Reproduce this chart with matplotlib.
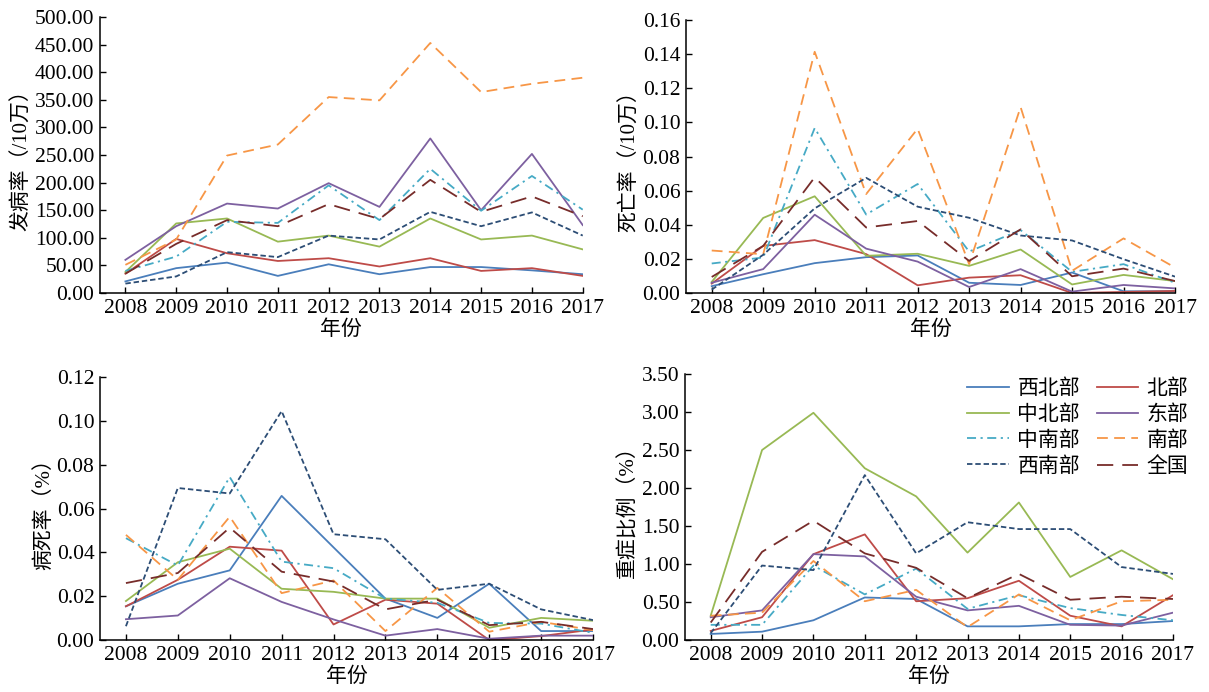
import numpy as np
from matplotlib import pyplot as plt

plt.rcParams['font.family'] = ['Liberation Serif', 'Noto Sans CJK SC']
plt.rcParams['axes.unicode_minus'] = False

years = list(range(2008, 2018))
regions = ['西北部', '北部', '中北部', '东部', '中南部', '南部', '西南部', '全国']

# 发病率 (/10万)
incidence = {
    '西北部': [21, 45, 55, 31, 52, 34, 47, 47, 41, 34],
    '北部': [35, 98, 72, 58, 63, 48, 63, 40, 45, 31],
    '中北部': [38, 126, 135, 93, 104, 84, 135, 97, 104, 79],
    '东部': [60, 121, 162, 153, 199, 156, 280, 150, 252, 123],
    '中南部': [40, 66, 129, 127, 195, 132, 225, 149, 212, 151],
    '南部': [51, 97, 249, 269, 355, 349, 453, 364, 379, 390],
    '西南部': [17, 30, 74, 65, 104, 97, 147, 121, 146, 104],
    '全国': [35, 89, 132, 121, 161, 134, 205, 147, 175, 139],
}

# 死亡率 (/10万)
mortality = {
    '西北部': [0.004, 0.011, 0.0175, 0.021, 0.022, 0.006, 0.0047, 0.012, 0.001, 0.001],
    '北部': [0.0055, 0.0276, 0.031, 0.0228, 0.0045, 0.009, 0.0104, 0.0, 0.0006, 0.0012],
    '中北部': [0.0065, 0.044, 0.0567, 0.0218, 0.023, 0.0159, 0.0255, 0.005, 0.0106, 0.007],
    '东部': [0.006, 0.014, 0.0459, 0.026, 0.0184, 0.0035, 0.014, 0.0008, 0.0047, 0.0027],
    '中南部': [0.0173, 0.0208, 0.0967, 0.046, 0.0639, 0.0243, 0.0369, 0.0124, 0.0169, 0.006],
    '南部': [0.0249, 0.0227, 0.1414, 0.058, 0.0963, 0.0169, 0.109, 0.013, 0.032, 0.0149],
    '西南部': [0.002, 0.0224, 0.0496, 0.0675, 0.0506, 0.0441, 0.0337, 0.0308, 0.0198, 0.0096],
    '全国': [0.0094, 0.0276, 0.0678, 0.0384, 0.0422, 0.0188, 0.0373, 0.0098, 0.0143, 0.007],
}

# 病死率 (%)
fatality = {
    '西北部': [0.0154, 0.0257, 0.0318, 0.0658, 0.0423, 0.0189, 0.0101, 0.0257, 0.0041, 0.0041],
    '北部': [0.0154, 0.0275, 0.0426, 0.0408, 0.0071, 0.0184, 0.0166, 0.0, 0.0018, 0.0048],
    '中北部': [0.0178, 0.0355, 0.0417, 0.0234, 0.022, 0.0189, 0.0189, 0.0056, 0.0101, 0.0088],
    '东部': [0.0095, 0.0112, 0.0282, 0.0174, 0.0094, 0.002, 0.005, 0.0006, 0.002, 0.002],
    '中南部': [0.0465, 0.034, 0.0744, 0.0358, 0.0328, 0.0189, 0.017, 0.0078, 0.0075, 0.0033],
    '南部': [0.048, 0.0275, 0.0563, 0.0214, 0.0272, 0.0041, 0.0238, 0.0038, 0.0083, 0.0045],
    '西南部': [0.0063, 0.0694, 0.0669, 0.1045, 0.0483, 0.046, 0.0229, 0.0257, 0.014, 0.0091],
    '全国': [0.026, 0.0306, 0.0513, 0.0312, 0.0267, 0.014, 0.0184, 0.0068, 0.0083, 0.005],
}

# 重症比例 (%)
severe = {
    '西北部': [0.08, 0.11, 0.26, 0.56, 0.54, 0.18, 0.18, 0.21, 0.21, 0.25],
    '北部': [0.12, 0.30, 1.13, 1.39, 0.51, 0.55, 0.78, 0.32, 0.18, 0.59],
    '中北部': [0.32, 2.50, 2.99, 2.26, 1.89, 1.15, 1.81, 0.83, 1.18, 0.80],
    '东部': [0.30, 0.39, 1.13, 1.10, 0.57, 0.39, 0.45, 0.20, 0.19, 0.36],
    '中南部': [0.20, 0.20, 0.98, 0.60, 0.94, 0.41, 0.59, 0.42, 0.33, 0.26],
    '南部': [0.32, 0.36, 1.04, 0.51, 0.66, 0.17, 0.60, 0.26, 0.51, 0.53],
    '西南部': [0.09, 0.98, 0.92, 2.17, 1.14, 1.55, 1.46, 1.46, 0.96, 0.87],
    '全国': [0.23, 1.16, 1.57, 1.14, 0.95, 0.55, 0.87, 0.53, 0.57, 0.54],
}

colors = {
    '西北部': '#4a7ebb', '北部': '#be4b48', '中北部': '#98b954', '东部': '#7d60a0',
    '中南部': '#46aac5', '南部': '#f79646', '西南部': '#2c4d75', '全国': '#772c2a',
}
dashes = {
    '西北部': None, '北部': None, '中北部': None, '东部': None,
    '中南部': (5, 2.5, 1.2, 2.5), '南部': (6, 3.5), '西南部': (3, 1.6), '全国': (9, 5),
}

fig = plt.figure(figsize=(12.09, 6.92), dpi=100)

panels = [
    ([0.0827, 0.5766, 0.3993, 0.3988], incidence, '发病率（/10万）', 500, 50),
    ([0.5674, 0.5766, 0.4045, 0.3944], mortality, '死亡率（/10万）', 0.16, 0.02),
    ([0.0827, 0.0751, 0.4078, 0.3799], fatality, '病死率（%）', 0.12, 0.02),
    ([0.5666, 0.0751, 0.4036, 0.3844], severe, '重症比例（%）', 3.5, 0.5),
]

for i, (rect, data, ylabel, ymax, step) in enumerate(panels):
    ax = fig.add_axes(rect)
    handles = {}
    for r in regions:
        line, = ax.plot(years, data[r], color=colors[r], lw=1.3, label=r)
        if dashes[r] is not None:
            line.set_dashes(dashes[r])
        handles[r] = line
    ax.set_xlim(2007.5, 2017)
    ax.set_ylim(0, ymax)
    ax.set_xticks(years)
    yt = np.arange(0, ymax + step / 2, step)
    ax.set_yticks(yt)
    ax.set_yticklabels(['%.2f' % v for v in yt])
    ax.tick_params(direction='in', length=4, width=1, labelsize=15.5, pad=4)
    for s in ['top', 'right']:
        ax.spines[s].set_visible(False)
    for s in ['left', 'bottom']:
        ax.spines[s].set_linewidth(1.1)
    ax.set_xlabel('年份', fontsize=15, labelpad=2)
    ax.set_ylabel(ylabel, fontsize=15, labelpad=2)
    if i == 3:
        # matplotlib fills legend columns first, reorder so rows read left to right
        order = regions[0::2] + regions[1::2]
        ax.legend([handles[r] for r in order], order, ncol=2, loc='upper right',
                  bbox_to_anchor=(1.07, 1.05), frameon=False, fontsize=15,
                  handlelength=2.0, columnspacing=0.8, labelspacing=0.3,
                  handletextpad=0.4)

fig.savefig('out.png', dpi=100)
